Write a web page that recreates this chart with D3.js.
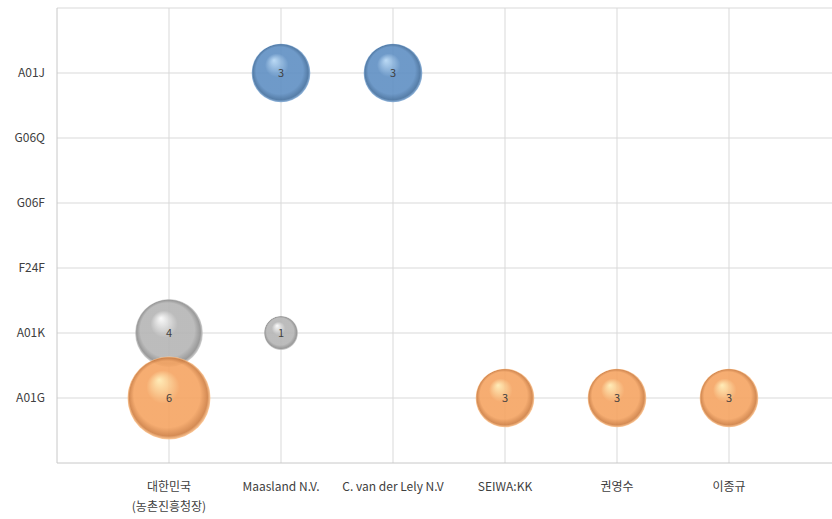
<!DOCTYPE html>
<html>
<head>
<meta charset="utf-8">
<script src="https://cdn.jsdelivr.net/npm/d3@7"></script>
<style>
  html, body { margin: 0; padding: 0; background: #ffffff; }
  svg { display: block; }
  text { font-family: "Noto Sans CJK KR", "Open Sans", sans-serif; fill: #404040; }
</style>
</head>
<body>
<svg id="chart" width="832" height="519"></svg>
<script>
// Applicants along the x axis (label lines split where a second line is shown)
const applicants = [
  ["대한민국", "(농촌진흥청장)"],
  ["Maasland N.V."],
  ["C. van der Lely N.V"],
  ["SEIWA:KK"],
  ["권영수"],
  ["이종규"]
];
// IPC codes along the y axis, bottom to top
const ipcCodes = ["A01G", "A01K", "F24F", "G06F", "G06Q", "A01J"];

// Patent counts per series: [applicant index, ipc index, count]
const seriesA01J = [[1, 5, 3], [2, 5, 3]];
const seriesA01K = [[0, 1, 4], [1, 1, 1]];
const seriesA01G = [[0, 0, 6], [3, 0, 3], [4, 0, 3], [5, 0, 3]];

const series = [
  { name: "A01J", data: seriesA01J, light: "#b4d6f4", base: "#5f8fc3", dark: "#44709f", rim: "#8ab2dc" },
  { name: "A01K", data: seriesA01K, light: "#fafafa", base: "#b5b5b5", dark: "#8f8f8f", rim: "#d0d0d0" },
  { name: "A01G", data: seriesA01G, light: "#ffeab0", base: "#f5a462", dark: "#d07f42", rim: "#ffc894" }
];

const svg = d3.select("#chart");
const plotLeft = 57, plotTop = 8, plotBottom = 463;
const x = d3.scaleLinear().domain([0, 7]).range([plotLeft, plotLeft + 7 * 112]);
const y = d3.scaleLinear().domain([0, 7]).range([plotBottom, plotTop]);
const r = d3.scaleSqrt().domain([0, 6]).range([0, 41.5]);

// gridlines
const grid = svg.append("g");
grid.selectAll("line.h").data(d3.range(1, 8)).join("line")
  .attr("x1", plotLeft).attr("x2", 832)
  .attr("y1", d => y(d)).attr("y2", d => y(d))
  .attr("stroke", "#d9d9d9").attr("stroke-width", 1);
grid.selectAll("line.v").data(d3.range(1, 7)).join("line")
  .attr("x1", d => x(d)).attr("x2", d => x(d))
  .attr("y1", plotTop).attr("y2", plotBottom)
  .attr("stroke", "#d9d9d9").attr("stroke-width", 1);

// axis lines
svg.append("line").attr("x1", plotLeft).attr("x2", plotLeft).attr("y1", plotTop).attr("y2", plotBottom)
  .attr("stroke", "#c8c8c8");
svg.append("line").attr("x1", plotLeft).attr("x2", 832).attr("y1", plotBottom).attr("y2", plotBottom)
  .attr("stroke", "#c8c8c8");

// y tick labels
svg.append("g").selectAll("text").data(ipcCodes).join("text")
  .attr("x", 45).attr("y", (d, i) => y(i + 1) + 4)
  .attr("text-anchor", "end")
  .style("font-size", "12px")
  .text(d => d);

// x tick labels
const xl = svg.append("g").selectAll("text").data(applicants).join("text")
  .attr("x", (d, i) => x(i + 1))
  .attr("y", 491)
  .attr("text-anchor", "middle")
  .style("font-size", "12px");
xl.each(function(lines) {
  const t = d3.select(this);
  lines.forEach((ln, j) => {
    t.append("tspan").attr("x", t.attr("x")).attr("dy", j === 0 ? 0 : 20).text(ln);
  });
});

// sphere gradients: highlight upper-left, shading lower-right, lighter rim
const defs = svg.append("defs");
series.forEach(s => {
  const g = defs.append("radialGradient").attr("id", "grad-" + s.name)
    .attr("cx", "50%").attr("cy", "50%").attr("r", "50%")
    .attr("fx", "38%").attr("fy", "28%");
  g.append("stop").attr("offset", "0%").attr("stop-color", s.light);
  g.append("stop").attr("offset", "40%").attr("stop-color", s.base);
  g.append("stop").attr("offset", "80%").attr("stop-color", s.base);
  g.append("stop").attr("offset", "94%").attr("stop-color", s.dark);
  g.append("stop").attr("offset", "100%").attr("stop-color", s.rim);
});

// bubbles
series.forEach(s => {
  const g = svg.append("g");
  g.selectAll("circle").data(s.data).join("circle")
    .attr("cx", d => x(d[0] + 1))
    .attr("cy", d => y(d[1] + 1))
    .attr("r", d => r(d[2]))
    .attr("fill", "url(#grad-" + s.name + ")")
    .attr("fill-opacity", 0.9);
  g.selectAll("text").data(s.data).join("text")
    .attr("x", d => x(d[0] + 1))
    .attr("y", d => y(d[1] + 1) + 4)
    .attr("text-anchor", "middle")
    .style("font-size", "11px")
    .style("fill", "#404040")
    .text(d => d[2]);
});
</script>
</body>
</html>
